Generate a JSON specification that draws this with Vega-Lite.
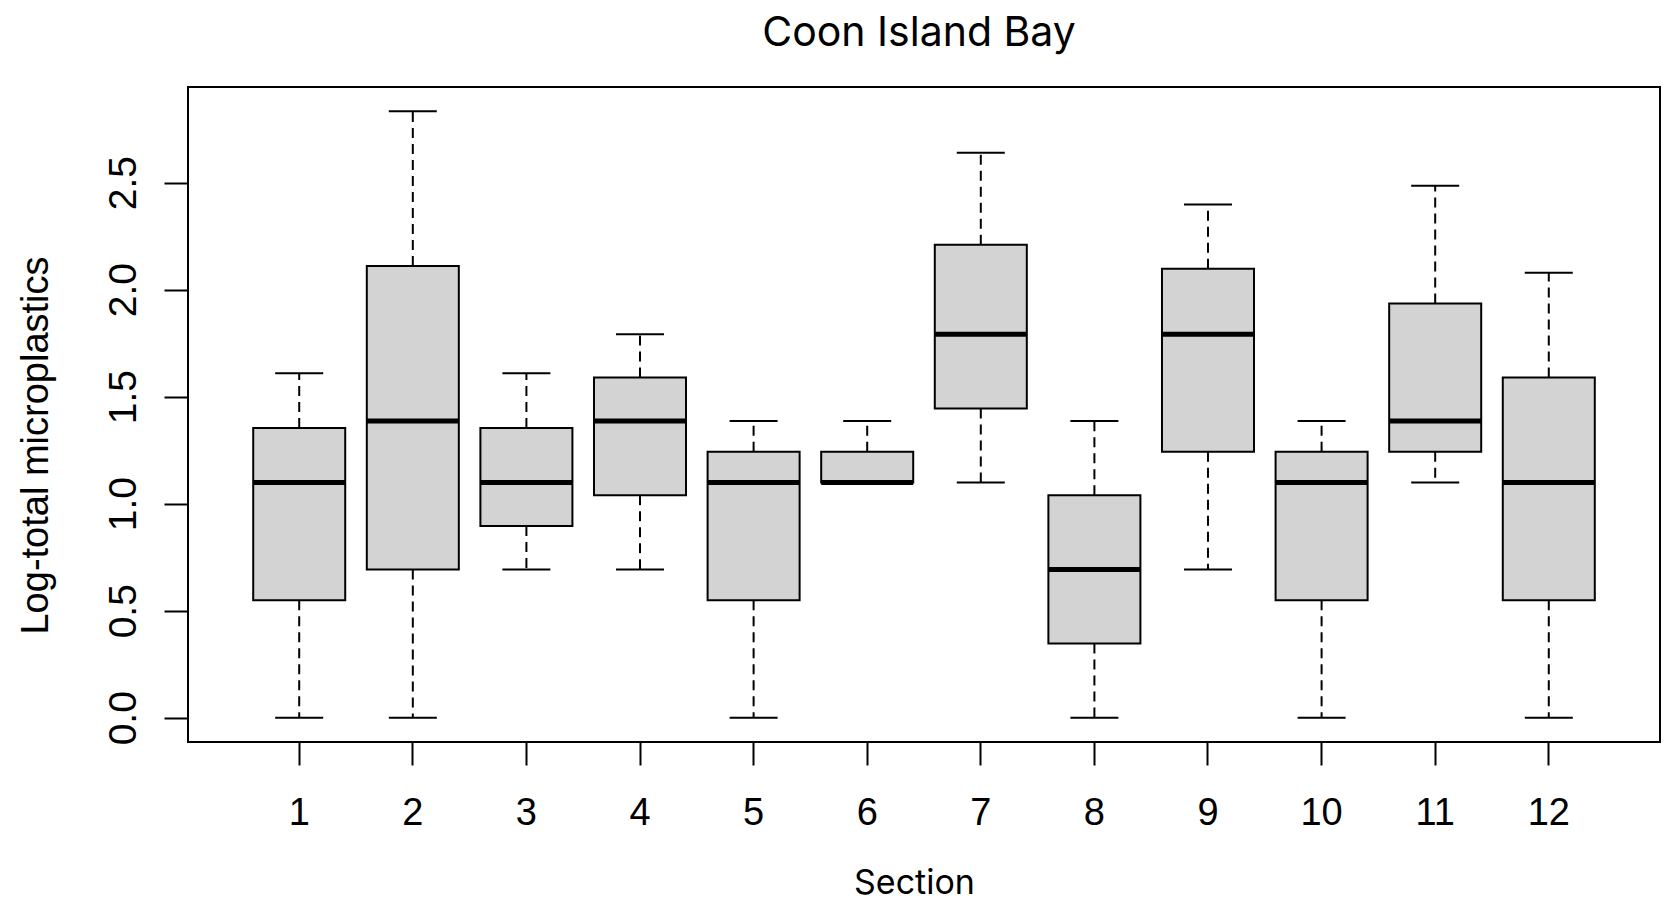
{
  "$schema": "https://vega.github.io/schema/vega-lite/v6.json",
  "width": 1472,
  "height": 655,
  "autosize": {"type": "none"},
  "padding": {"left": 188, "top": 87, "right": 4, "bottom": 168},
  "background": "white",
  "title": {"text": "Coon Island Bay", "font": "Inter", "fontSize": 41, "fontWeight": "normal", "color": "black", "baseline": "alphabetic", "offset": 0, "dx": -5, "anchor": "middle", "frame": "group"},
  "config": {"view": {"stroke": "black", "strokeWidth": 2}},
  "data": {"values": [
    {"section": "1", "lo": 0, "q1": 0.549, "med": 1.0986, "q3": 1.354, "hi": 1.609},
    {"section": "2", "lo": 0, "q1": 0.693, "med": 1.386, "q3": 2.11, "hi": 2.833},
    {"section": "3", "lo": 0.693, "q1": 0.896, "med": 1.0986, "q3": 1.354, "hi": 1.609},
    {"section": "4", "lo": 0.693, "q1": 1.04, "med": 1.386, "q3": 1.589, "hi": 1.792},
    {"section": "5", "lo": 0, "q1": 0.549, "med": 1.0986, "q3": 1.2425, "hi": 1.386},
    {"section": "6", "lo": 1.0986, "q1": 1.0986, "med": 1.0986, "q3": 1.2425, "hi": 1.386},
    {"section": "7", "lo": 1.0986, "q1": 1.445, "med": 1.792, "q3": 2.21, "hi": 2.639},
    {"section": "8", "lo": 0, "q1": 0.3466, "med": 0.693, "q3": 1.04, "hi": 1.386},
    {"section": "9", "lo": 0.693, "q1": 1.2425, "med": 1.792, "q3": 2.098, "hi": 2.398},
    {"section": "10", "lo": 0, "q1": 0.549, "med": 1.0986, "q3": 1.2425, "hi": 1.386},
    {"section": "11", "lo": 1.0986, "q1": 1.2425, "med": 1.386, "q3": 1.935, "hi": 2.485},
    {"section": "12", "lo": 0, "q1": 0.549, "med": 1.0986, "q3": 1.589, "hi": 2.079}
  ]},
  "encoding": {
    "x": {
      "field": "section", "type": "ordinal", "sort": null,
      "scale": {"type": "band", "paddingInner": 0.19, "paddingOuter": 0.574},
      "axis": {
        "title": "Section", "titleFont": "Inter", "titleFontSize": 34, "titleFontWeight": "normal", "titleColor": "black",
        "titleBaseline": "alphabetic", "titleAlign": "center", "titleX": 726, "titleY": 151,
        "labelFont": "Liberation Sans", "labelFontSize": 38, "labelColor": "black", "labelAngle": 0,
        "labelBaseline": "alphabetic", "labelPadding": 59,
        "tickSize": 23, "tickWidth": 2, "tickColor": "black", "domain": false, "grid": false
      }
    }
  },
  "layer": [
    {
      "mark": {"type": "rule", "stroke": "black", "strokeWidth": 2, "strokeDash": [10, 6]},
      "encoding": {
        "x": {"field": "section", "type": "ordinal", "sort": null, "bandPosition": 0.5},
        "y": {"field": "q1", "type": "quantitative",
          "scale": {"domain": [-0.1133, 2.9466], "nice": false, "zero": false},
          "axis": {
            "title": "Log-total microplastics", "titleFont": "Liberation Sans", "titleFontSize": 38, "titleFontWeight": "normal", "titleColor": "black",
            "titleAngle": -90, "titleBaseline": "alphabetic", "titleAlign": "center", "titleX": -141, "titleY": 358,
            "values": [0, 0.5, 1, 1.5, 2, 2.5], "format": ".1f",
            "labelFont": "Liberation Sans", "labelFontSize": 39, "labelColor": "black", "labelAngle": -90,
            "labelAlign": "center", "labelBaseline": "alphabetic", "labelPadding": 29,
            "tickSize": 24, "tickWidth": 2, "tickColor": "black", "domain": false, "grid": false
          }},
        "y2": {"field": "lo"}
      }
    },
    {
      "mark": {"type": "rule", "stroke": "black", "strokeWidth": 2, "strokeDash": [10, 6]},
      "encoding": {
        "x": {"field": "section", "type": "ordinal", "sort": null, "bandPosition": 0.5},
        "y": {"field": "q3", "type": "quantitative"},
        "y2": {"field": "hi"}
      }
    },
    {
      "mark": {"type": "tick", "color": "black", "orient": "horizontal", "size": 48, "thickness": 2, "opacity": 1},
      "encoding": {"y": {"field": "lo", "type": "quantitative"}}
    },
    {
      "mark": {"type": "tick", "color": "black", "orient": "horizontal", "size": 48, "thickness": 2, "opacity": 1},
      "encoding": {"y": {"field": "hi", "type": "quantitative"}}
    },
    {
      "mark": {"type": "bar", "fill": "#d3d3d3", "stroke": "black", "strokeWidth": 2, "opacity": 1},
      "encoding": {
        "y": {"field": "q1", "type": "quantitative"},
        "y2": {"field": "q3"}
      }
    },
    {
      "mark": {"type": "tick", "color": "black", "orient": "horizontal", "size": 92, "thickness": 5, "opacity": 1},
      "encoding": {"y": {"field": "med", "type": "quantitative"}}
    }
  ]
}
